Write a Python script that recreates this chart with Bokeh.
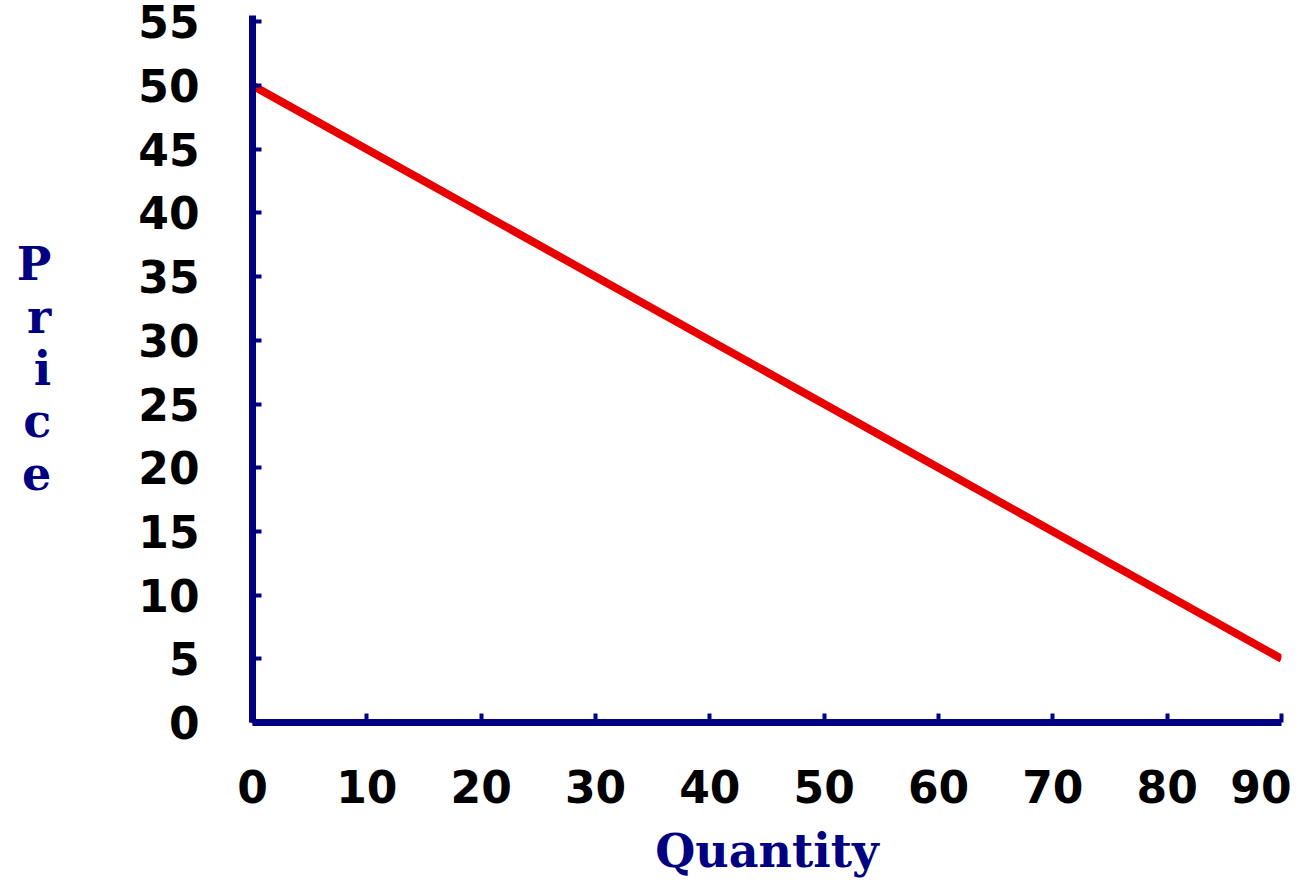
from bokeh.plotting import figure
from bokeh.models import Range1d, FixedTicker
from bokeh.embed import file_html
from bokeh.resources import INLINE

quantity = [0, 90]
price = [50, 5]
x_ticks = [0, 10, 20, 30, 40, 50, 60, 70, 80, 90]
y_ticks = [0, 5, 10, 15, 20, 25, 30, 35, 40, 45, 50, 55]

NAVY = "#000080"

p = figure(width=1291, height=880, output_backend="svg", toolbar_location=None,
           x_range=Range1d(0, 90), y_range=Range1d(0, 55.5),
           min_border_left=252, min_border_right=10, min_border_top=15,
           min_border_bottom=158)
p.outline_line_color = None
p.grid.visible = False
p.background_fill_color = "white"
p.border_fill_color = "white"

p.line(quantity, price, line_color="#e80000", line_width=8)

for ax in (p.xaxis[0], p.yaxis[0]):
    ax.axis_line_color = NAVY
    ax.axis_line_width = 7
    ax.major_tick_line_color = NAVY
    ax.major_tick_line_width = 4
    ax.major_tick_in = 9
    ax.major_tick_out = 0
    ax.minor_tick_line_color = None
    ax.major_label_text_font = "DejaVu Sans"
    ax.major_label_text_font_style = "bold"
    ax.major_label_text_font_size = "44px"
    ax.major_label_text_color = "black"
    ax.axis_label_text_font = "DejaVu Serif"
    ax.axis_label_text_font_style = "bold"
    ax.axis_label_text_color = NAVY

p.xaxis.ticker = FixedTicker(ticks=x_ticks)
p.yaxis.ticker = FixedTicker(ticks=y_ticks)

p.xaxis.major_label_standoff = 47
p.yaxis.major_label_standoff = 53

p.xaxis.axis_label = "Quantity"
p.xaxis.axis_label_text_font_size = "46px"
p.xaxis.axis_label_text_baseline = "alphabetic"
p.xaxis.axis_label_standoff = 18

p.yaxis.axis_label = "P\nr\ni\nc\ne"
p.yaxis.axis_label_orientation = "horizontal"
p.yaxis.axis_label_text_font_size = "46px"
p.yaxis.axis_label_text_line_height = 0.97
p.yaxis.axis_label_standoff = 84

open("out.html", "w").write(file_html(p, INLINE))
